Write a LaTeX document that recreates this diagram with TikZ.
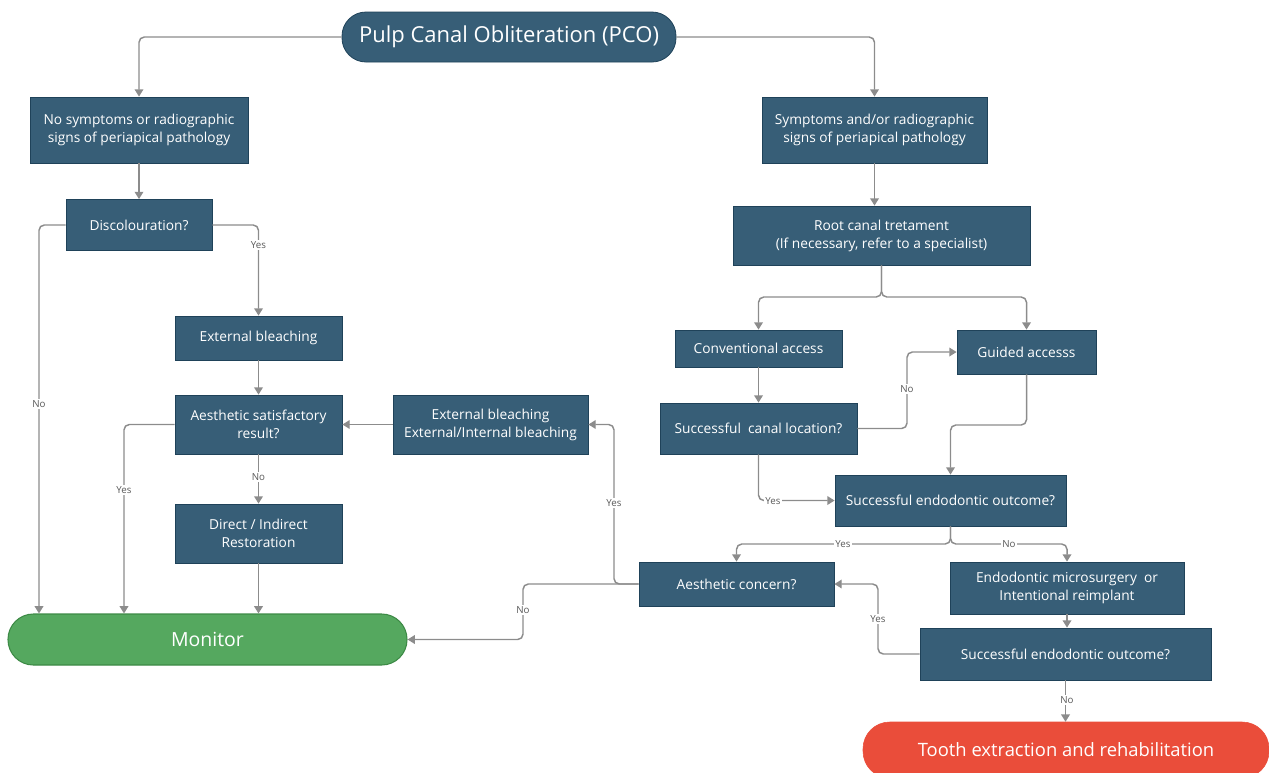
\documentclass[tikz,border=0pt]{standalone}
\usepackage{fontspec}
\setmainfont{Open Sans}
\usetikzlibrary{arrows.meta}
\definecolor{boxc}{HTML}{375E77}
\definecolor{boxb}{HTML}{1F4259}
\definecolor{linec}{HTML}{8C8C8C}
\definecolor{mong}{HTML}{55A85F}
\definecolor{mongb}{HTML}{3D8A46}
\definecolor{redc}{HTML}{EA4D3A}
\begin{document}
\begin{tikzpicture}[x=0.75pt,y=-0.75pt,
  box/.style={draw=boxb, fill=boxc, text=white, font=\fontsize{10.3}{13.5}\selectfont, align=center, inner sep=0pt, line width=0.6pt},
  sz/.style 2 args={minimum width=#1*0.75pt, minimum height=#2*0.75pt},
  conn/.style={draw=linec, line width=1.1pt, rounded corners=4pt, -{Triangle[width=6.5pt,length=5.5pt]}},
  lab/.style={fill=white, text=black!65, font=\fontsize{7.3}{8}\selectfont, inner sep=1.2pt},
]
\useasboundingbox (0,0) rectangle (1269,772);
% nodes
\node[box, sz={334}{50}, rounded corners=18pt, font=\fontsize{16.5}{19}\selectfont] (pco) at (509,37) {Pulp Canal Obliteration (PCO)};
\node[box, sz={218}{66}] (A) at (139,130) {No symptoms or radiographic\\signs of periapical pathology};
\node[box, sz={146}{51}] (B) at (139,225) {Discolouration?};
\node[box, sz={167}{44}] (C) at (258.5,338) {External bleaching};
\node[box, sz={167}{59}] (D) at (258.5,424.5) {Aesthetic satisfactory\\result?};
\node[box, sz={167}{59}] (E) at (258.5,533.5) {Direct / Indirect\\Restoration};
\node[box, sz={195}{59}] (F) at (490.5,424.5) {External bleaching\\External/Internal bleaching};
\node[draw=mongb, fill=mong, text=white, line width=0.8pt, rounded corners=19pt, sz={399}{51}, inner sep=0pt, font=\fontsize{14.6}{17}\selectfont] (mon) at (207.5,639.5) {Monitor};
\node[box, sz={225}{66}] (G) at (874.5,130) {Symptoms and/or radiographic\\signs of periapical pathology};
\node[box, sz={297}{59}] (H) at (881.5,235.5) {Root canal tretament\\(If necessary, refer to a specialist)};
\node[box, sz={167}{37}] (I) at (758.5,348.5) {Conventional access};
\node[box, sz={139}{44}] (J) at (1026.5,352) {Guided accesss};
\node[box, sz={197}{51}] (K) at (758.5,428.5) {Successful\ \ canal location?};
\node[box, sz={231}{51}] (L) at (950.5,500.5) {Successful endodontic outcome?};
\node[box, sz={195}{44}] (M) at (736.5,584) {Aesthetic concern?};
\node[box, sz={234}{52}] (N) at (1067,588) {Endodontic microsurgery\ \ or\\Intentional reimplant};
\node[box, sz={291}{52}] (O) at (1065.5,654) {Successful endodontic outcome?};
\node[draw=redc, fill=redc, text=white, rounded corners=20pt, sz={406}{56}, inner sep=0pt, font=\fontsize{13.8}{16}\selectfont] (T) at (1066,750) {Tooth\ extraction and rehabilitation};
% connectors
\draw[conn] (pco.west) -| (A.north);
\draw[conn] (pco.east) -| (G.north);
\draw[conn] (A) -- (B);
\draw[conn] (B.west) -| (39,0 |- mon.north);
\draw[conn] (B.east) -| (C.north);
\draw[conn] (C) -- (D);
\draw[conn] (D.west) -| (124,0 |- mon.north);
\draw[conn] (D) -- (E);
\draw[conn] (E.south) -- (E.south |- mon.north);
\draw[conn] (F.west) -- (D.east);
\draw[conn] (M.west) -| (523,0 |- mon.east) -- (mon.east);
\draw[conn] (M.west) -| (614,0 |- F.east) -- (F.east);
\draw[conn] (G.south) -- (G.south |- H.north);
\draw[conn] (H.south) |- (I.north |- 0,297) -- (I.north);
\draw[conn] (H.south) |- (J.north |- 0,297) -- (J.north);
\draw[conn] (I) -- (K);
\draw[conn] (K.east) -| (907,0 |- J.west) -- (J.west);
\draw[conn] (J.south) |- (L.north |- 0,425) -- (L.north);
\draw[conn] (K.south) |- (L.west);
\draw[conn] (L.south) |- (M.north |- 0,544) -- (M.north);
\draw[conn] (L.south) |- (N.north |- 0,544) -- (N.north);
\draw[conn] (N.south) -- (N.south |- O.north);
\draw[conn] (O.west) -| (878,0 |- M.east) -- (M.east);
\draw[conn] (O.south) -- (O.south |- T.north);
% labels
\node[lab] (l1) at (39,404) {No};
\node[lab] (l2) at (258.5,245) {Yes};
\node[lab] (l3) at (124,490) {Yes};
\node[lab] (l4) at (258.5,477) {No};
\node[lab] (l5) at (523,610) {No};
\node[lab] (l6) at (614,503) {Yes};
\node[lab] (l7) at (907,389) {No};
\node[lab] (l8) at (773,501) {Yes};
\node[lab] (l9) at (843,544) {Yes};
\node[lab] (l10) at (1009,544) {No};
\node[lab] (l11) at (878,619) {Yes};
\node[lab] (l12) at (1067,700) {No};
\end{tikzpicture}
\end{document}
